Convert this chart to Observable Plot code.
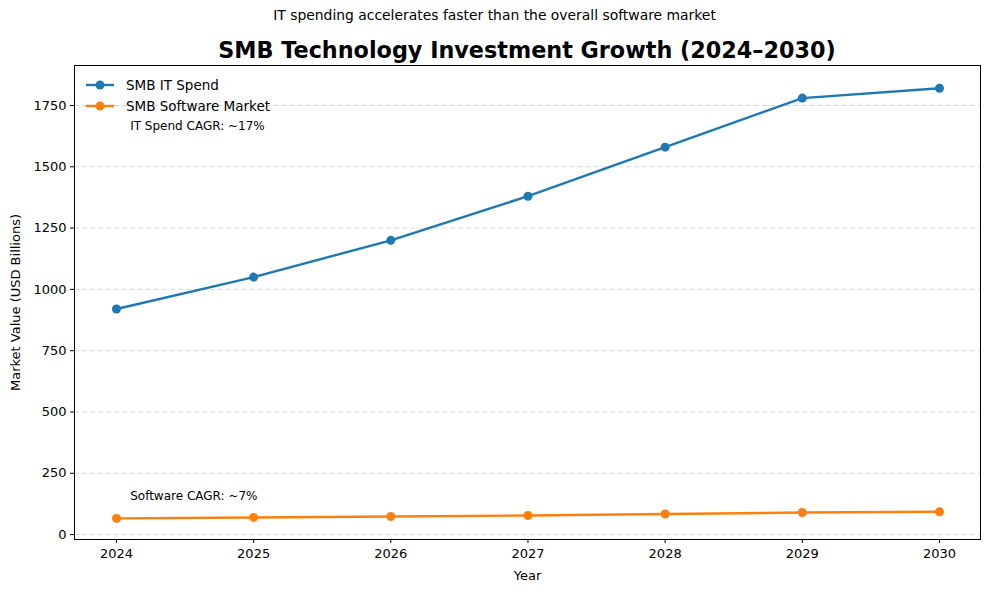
<!DOCTYPE html>
<html><head><meta charset="utf-8">
<script src="https://cdn.jsdelivr.net/npm/d3@7"></script>
<script src="https://cdn.jsdelivr.net/npm/@observablehq/plot@0.6"></script>
<style>
body{margin:0;background:#fff;font-family:"DejaVu Sans",sans-serif;}
#wrap{position:relative;width:989px;height:592px;overflow:hidden;}
#sub{position:absolute;top:7px;left:0;width:989px;text-align:center;font-size:13.9px;color:#000;}
#title{position:absolute;top:37px;left:74px;width:906px;text-align:center;font-size:22.3px;font-weight:bold;color:#000;}
#chart{position:absolute;top:0;left:0;}
</style></head>
<body><div id="wrap"><div id="chart"></div><div id="sub">IT spending accelerates faster than the overall software market</div><div id="title">SMB Technology Investment Growth (2024–2030)</div></div>
<script>
const years = [2024, 2025, 2026, 2027, 2028, 2029, 2030];
const itSpend = [920, 1050, 1200, 1380, 1580, 1780, 1820];
const software = [66, 70, 74, 78, 84, 90, 93];
const seriesNames = ["SMB IT Spend", "SMB Software Market"];
const seriesColors = ["#1f77b4", "#ff7f0e"];
const yTicks = [0, 250, 500, 750, 1000, 1250, 1500, 1750];
const annotations = [
  {x: 2024.1, y: 1665, text: "IT Spend CAGR: ~17%"},
  {x: 2024.1, y: 155, text: "Software CAGR: ~7%"}
];

const data = [
  ...years.map((y, i) => ({year: y, value: itSpend[i], series: seriesNames[0]})),
  ...years.map((y, i) => ({year: y, value: software[i], series: seriesNames[1]}))
];

const chart = Plot.plot({
  width: 989, height: 592,
  marginLeft: 74, marginRight: 9, marginTop: 65, marginBottom: 53,
  style: {fontFamily: "DejaVu Sans, sans-serif", fontSize: "13px", color: "#000", background: "transparent"},
  x: {domain: [2023.694, 2030.299], ticks: years, tickFormat: d => String(d), label: "Year", labelArrow: "none", labelAnchor: "center", labelOffset: 40, tickSize: 4, tickPadding: 5},
  y: {domain: [-20, 1913], ticks: yTicks, tickFormat: d => String(d), label: "Market Value (USD Billions)", labelArrow: "none", labelAnchor: "center", labelOffset: 64, tickSize: 4, tickPadding: 4},
  color: {domain: seriesNames, range: seriesColors},
  marks: [
    Plot.gridY(yTicks, {stroke: "#ccc", strokeOpacity: 0.8, strokeDasharray: "5,3"}),
    Plot.line(data, {x: "year", y: "value", z: "series", stroke: "series", strokeWidth: 2.4}),
    Plot.dot(data, {x: "year", y: "value", fill: "series", r: 4.5}),
    Plot.text(annotations, {x: "x", y: "y", text: "text", textAnchor: "start", fontSize: 12, fill: "#000"}),
    Plot.frame({stroke: "#000", strokeWidth: 1})
  ]
});
document.getElementById("chart").appendChild(chart);

// legend inside plot
const svg = d3.select(chart);
const lg = svg.append("g").attr("font-family", "DejaVu Sans, sans-serif").attr("font-size", 13.5).attr("text-anchor", "start");
seriesNames.forEach((name, i) => {
  const yy = 85 + i * 21;
  lg.append("line").attr("x1", 86).attr("x2", 114).attr("y1", yy).attr("y2", yy).attr("stroke", seriesColors[i]).attr("stroke-width", 2.4);
  lg.append("circle").attr("cx", 100).attr("cy", yy).attr("r", 4.5).attr("fill", seriesColors[i]);
  lg.append("text").attr("x", 126).attr("y", yy).attr("dy", "0.35em").attr("fill", "#000").text(name);
});
</script></body></html>
